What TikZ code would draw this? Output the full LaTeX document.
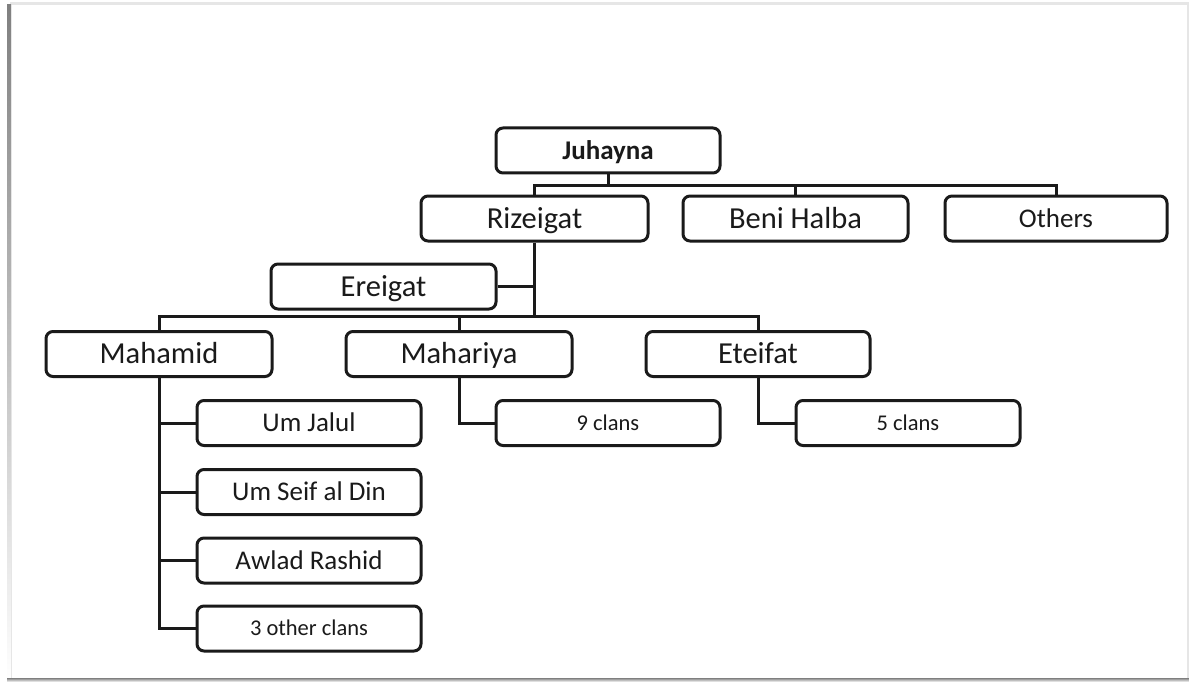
\documentclass[tikz,border=0pt]{standalone}
\usepackage{fontspec}
\setmainfont{Carlito}
\definecolor{ink}{HTML}{1A1A1A}
\definecolor{shade}{HTML}{C8C8C8}
\definecolor{shadelight}{HTML}{E6E6E6}
\tikzset{
  box/.style={draw=ink, line width=3pt, rounded corners=7pt, fill=white,
    minimum width=#1, minimum height=45pt, inner sep=0pt, text=ink,
    text depth=0pt},
  box/.default=225pt,
  big/.style={font=\fontsize{30.5}{32}\selectfont, text height=19.5pt},
  mid/.style={font=\fontsize{27}{29}\selectfont, text height=17.3pt},
  midbold/.style={font=\fontsize{27}{29}\selectfont\bfseries, text height=17.3pt},
  small/.style={font=\fontsize{22.5}{24}\selectfont, text height=14.4pt},
  link/.style={draw=ink, line width=3pt}
}
\begin{document}
\begin{tikzpicture}[x=1pt,y=-1pt]
\useasboundingbox (0,0) rectangle (1189,682);
% page with shadow
\fill[white] (0,0) rectangle (1189,682);
\fill[shadelight] (10,2) rectangle (1189,5);
\fill[shade] (7,5) rectangle (11,682);
\fill[shadelight] (11,5) rectangle (12,680);
\fill[shade] (7,678) rectangle (1189,682);
\fill[shadelight] (1187,5) rectangle (1189,678);
% nodes
\node[box=224pt, midbold] (J) at (608,150.5) {Juhayna};
\node[box=227pt, big] (R) at (534.5,218.5) {Rizeigat};
\node[box=225pt, big] (B) at (795.5,218.5) {Beni Halba};
\node[box=222pt, mid] (O) at (1056,218.5) {Others};
\node[box=225pt, big] (E) at (383.5,286.5) {Ereigat};
\node[box=226pt, big] (Mh) at (159,354) {Mahamid};
\node[box=226pt, big] (Ma) at (459,354) {Mahariya};
\node[box=224pt, big] (Et) at (758,354) {Eteifat};
\node[box=224pt, mid] (UJ) at (309,423) {Um Jalul};
\node[box=224pt, mid] (US) at (309,492) {Um Seif al Din};
\node[box=224pt, mid] (AR) at (309,560.5) {Awlad Rashid};
\node[box=224pt, small] (OC) at (309,628.5) {3 other clans};
\node[box=224pt, small] (C9) at (608,423) {9 clans};
\node[box=224pt, small] (C5) at (908,423) {5 clans};
\coordinate (b1) at (0,185);
\coordinate (b2) at (0,316);
% connectors
\draw[link] (J.south) -- (J.south |- b1);
\draw[link] (R.north) -- (R.north |- b1) -- (O.north |- b1) -- (O.north);
\draw[link] (B.north) -- (B.north |- b1);
\draw[link] (R.south) -- (R.south |- b2);
\draw[link] (E.east) -- (E.east -| R.south);
\draw[link] (Mh.north) -- (Mh.north |- b2) -- (Et.north |- b2) -- (Et.north);
\draw[link] (Ma.north) -- (Ma.north |- b2);
\draw[link] (Mh.south) -- (Mh.south |- OC.west) -- (OC.west);
\draw[link] (Mh.south |- UJ.west) -- (UJ.west);
\draw[link] (Mh.south |- US.west) -- (US.west);
\draw[link] (Mh.south |- AR.west) -- (AR.west);
\draw[link] (Ma.south) |- (C9.west);
\draw[link] (Et.south) |- (C5.west);
\end{tikzpicture}
\end{document}
